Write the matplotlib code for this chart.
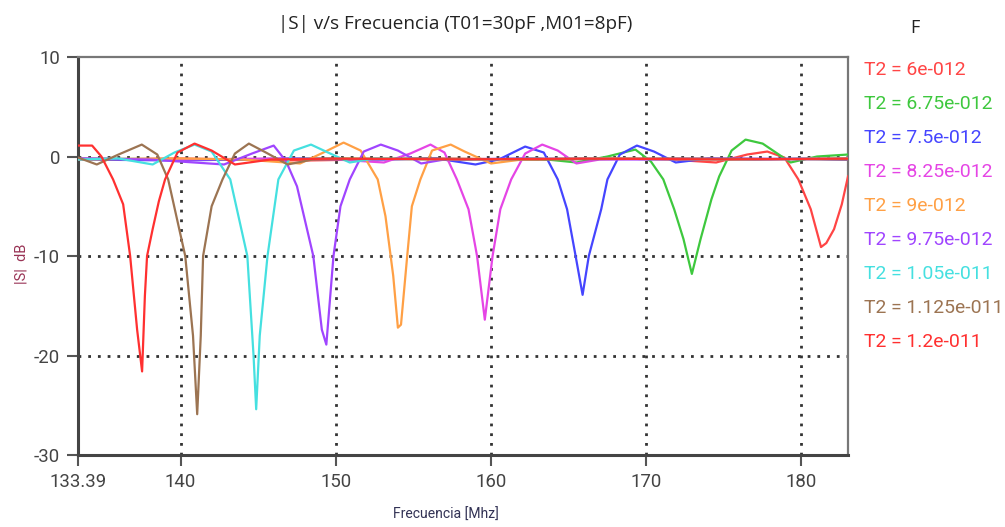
import matplotlib
matplotlib.use("Agg")
import matplotlib.pyplot as plt
from matplotlib import font_manager
import numpy as np

_names = {f.name for f in font_manager.fontManager.ttflist}
if "Liberation Sans Narrow" in _names:
    NARROW = ["Liberation Sans Narrow", "DejaVu Sans"]
    NSCALE = 1.0
else:
    NARROW = ["Roboto", "DejaVu Sans"]
    NSCALE = 0.84

# |S| dB curves, one pair of lists per T2 value
f_600 = [133.39, 140, 148, 156, 163, 168, 171.5, 174.5, 176.5, 177.8, 178.9, 179.8, 180.6, 181.26, 181.6, 182.1, 182.6, 183.0]
s_600 = [-0.3, -0.2, -0.4, -0.2, -0.3, -0.2, -0.3, -0.6, 0.2, 0.5, -0.1, -2.3, -5.3, -9.1, -8.7, -7.3, -4.8, -2.0]

f_675 = [133.39, 142, 150, 158, 163, 165.5, 167.5, 169.3, 170.3, 171.1, 171.8, 172.4, 172.94, 173.5, 174.2, 174.7, 175.5, 176.4, 177.5, 179.3, 181, 183.0]
s_675 = [-0.2, -0.3, -0.2, -0.3, -0.2, -0.6, 0.0, 0.7, -0.5, -2.3, -5.3, -8.3, -11.8, -8.3, -4.3, -2.0, 0.6, 1.7, 1.3, -0.6, 0.0, 0.2]

f_750 = [133.39, 140, 147, 153, 156.5, 159.0, 160.5, 162.2, 163.4, 164.3, 164.9, 165.45, 165.9, 166.3, 167.1, 167.5, 168.3, 169.4, 170.5, 171.9, 174, 177, 180, 183.0]
s_750 = [-0.3, -0.4, -0.2, -0.3, -0.2, -0.8, -0.3, 1.0, 0.4, -2.3, -5.3, -10.0, -13.9, -10.0, -5.3, -2.3, 0.2, 1.1, 0.5, -0.6, -0.2, -0.3, -0.2, -0.3]

f_825 = [133.39, 140, 146, 150, 153.1, 154.8, 156.1, 157.0, 157.8, 158.55, 159.1, 159.6, 160.1, 160.6, 161.3, 162.2, 163.3, 164.3, 165.5, 167, 172, 178, 183.0]
s_825 = [-0.2, -0.3, -0.2, -0.3, -0.6, 0.3, 1.2, 0.4, -2.3, -5.3, -10.0, -16.4, -10.0, -5.3, -2.3, 0.3, 1.2, 0.6, -0.7, -0.3, -0.2, -0.3, -0.2]

f_900 = [133.39, 140, 144, 147.7, 149.2, 150.5, 151.6, 152.7, 153.2, 153.7, 154.0, 154.2, 154.6, 154.9, 155.45, 156.2, 157.4, 158.3, 160.0, 162, 168, 175, 183.0]
s_900 = [-0.3, -0.2, -0.3, -0.7, 0.4, 1.4, 0.6, -2.3, -6.0, -12.0, -17.2, -16.9, -10.0, -5.0, -2.3, 0.6, 1.2, 0.5, -0.7, -0.3, -0.2, -0.3, -0.2]

f_975 = [133.39, 138, 142.8, 144.6, 146.0, 146.8, 147.5, 148.55, 149.1, 149.39, 149.85, 150.3, 150.9, 151.8, 152.9, 154.0, 155.5, 157, 162, 170, 176, 183.0]
s_975 = [-0.2, -0.3, -0.8, 0.3, 1.1, -0.5, -3.0, -10.0, -17.4, -18.9, -10.0, -5.0, -2.3, 0.5, 1.2, 0.6, -0.7, -0.3, -0.2, -0.3, -0.2, -0.3]

f_1050 = [133.39, 136, 138.2, 139.6, 140.9, 142.0, 143.2, 144.3, 144.7, 144.87, 145.1, 145.6, 146.3, 147.3, 148.4, 149.5, 150.9, 152.5, 158, 166, 175, 183.0]
s_1050 = [-0.3, -0.2, -0.8, 0.4, 1.2, 0.5, -2.3, -10.0, -20.0, -25.4, -18.0, -10.0, -2.3, 0.6, 1.2, 0.4, -0.6, -0.2, -0.3, -0.2, -0.3, -0.2]

f_1125 = [133.39, 134.6, 136.0, 137.5, 138.5, 139.2, 140.3, 140.8, 141.07, 141.3, 141.45, 142.0, 142.7, 143.5, 144.4, 145.5, 146.9, 148.5, 155, 163, 172, 183.0]
s_1125 = [-0.1, -0.8, 0.2, 1.2, 0.2, -2.3, -10.0, -18.0, -25.9, -18.0, -10.0, -5.0, -2.3, 0.3, 1.3, 0.4, -0.8, -0.3, -0.2, -0.3, -0.2, -0.3]

f_1200 = [133.39, 134.3, 134.9, 135.65, 136.3, 136.75, 137.2, 137.52, 137.7, 137.84, 138.2, 138.6, 139.0, 139.8, 140.9, 142.0, 143.5, 145.8, 150, 158, 166, 175, 183.0]
s_1200 = [1.1, 1.1, 0.0, -2.3, -4.8, -10.0, -17.4, -21.6, -14.0, -10.0, -7.3, -4.5, -2.3, 0.4, 1.3, 0.6, -0.8, -0.3, -0.2, -0.3, -0.2, -0.3, -0.2]

labels = ["T2 = 6e-012", "T2 = 6.75e-012", "T2 = 7.5e-012", "T2 = 8.25e-012", "T2 = 9e-012",
          "T2 = 9.75e-012", "T2 = 1.05e-011", "T2 = 1.125e-011", "T2 = 1.2e-011"]
colors = ["#ff4545", "#3ec83e", "#4545ff", "#e545e5", "#ffa045", "#a045ff", "#45e0e0", "#9c7452", "#ff3030"]

series = [(f_600, s_600), (f_675, s_675), (f_750, s_750), (f_825, s_825), (f_900, s_900),
          (f_975, s_975), (f_1050, s_1050), (f_1125, s_1125), (f_1200, s_1200)]

xticks = [133.39, 140, 150, 160, 170, 180]
xticklabels = ["133.39", "140", "150", "160", "170", "180"]
yticks = [-30, -20, -10, 0, 10]
yticklabels = ["-30", "-20", "-10", "0", "10"]

fig = plt.figure(figsize=(10.05, 5.27), dpi=100)
ax = fig.add_axes([0.0776, 0.1366, 0.7662, 0.7552])

for (f, s), c in zip(series, colors):
    ax.plot(f, s, color=c, lw=1.6, zorder=3)

ax.set_xlim(133.39, 183.0)
ax.set_ylim(-30, 10)
ax.set_xticks(xticks)
ax.set_xticklabels(xticklabels, fontsize=16 * NSCALE, color="#444444", family=NARROW)
ax.set_yticks(yticks)
ax.set_yticklabels(yticklabels, fontsize=16 * NSCALE, color="#444444", family=NARROW)
ax.tick_params(direction="out", length=8, width=1.5, color="#555555", pad=5)

# dotted grid only at inner ticks
for x in [140, 150, 160, 170, 180]:
    ax.axvline(x, color="#333333", lw=2, ls=(0, (1, 2.5)), zorder=1)
for y in [-20, -10, 0]:
    ax.axhline(y, color="#333333", lw=2, ls=(0, (1, 2.5)), zorder=1)

ax.spines["left"].set_linewidth(2.2)
ax.spines["bottom"].set_linewidth(2.2)
ax.spines["left"].set_color("#444444")
ax.spines["bottom"].set_color("#444444")
ax.spines["top"].set_linewidth(1.6)
ax.spines["right"].set_linewidth(1.6)
ax.spines["top"].set_color("#777777")
ax.spines["right"].set_color("#777777")

fig.text(0.453, 0.955, "|S| v/s Frecuencia (T01=30pF ,M01=8pF)", ha="center", va="center",
         fontsize=13.6, family=["Open Sans", "DejaVu Sans"], color="#222222")
fig.text(0.444, 0.023, "Frecuencia [Mhz]", ha="center", va="center",
         fontsize=12 * NSCALE, family=NARROW, color="#333355")
fig.text(0.021, 0.50, "|S|  dB", ha="center", va="center", rotation=90,
         fontsize=12.5 * NSCALE, family=NARROW, color="#993355")

fig.text(0.910, 0.947, "F", ha="center", va="center", fontsize=13,
         family=["Open Sans", "DejaVu Sans"], color="#222222")
for i, (lab, c) in enumerate(zip(labels, colors)):
    fig.text(0.860, 0.867 - i * 0.0645, lab, ha="left", va="center", fontsize=16.6 * NSCALE,
             family=NARROW, color=c)

fig.savefig("out.png", dpi=100)
